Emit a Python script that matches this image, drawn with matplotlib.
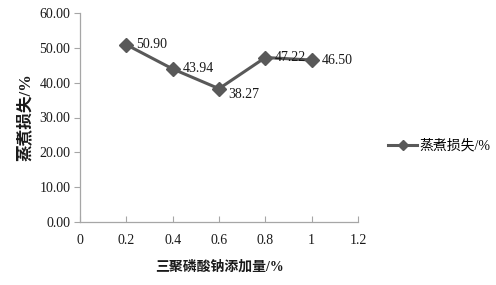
import matplotlib
matplotlib.use("Agg")
import matplotlib.pyplot as plt
from matplotlib.lines import Line2D

x_vals = [0.2, 0.4, 0.6, 0.8, 1.0]
loss = [50.90, 43.94, 38.27, 47.22, 46.50]
point_labels = ["50.90", "43.94", "38.27", "47.22", "46.50"]
x_ticks = [0, 0.2, 0.4, 0.6, 0.8, 1.0, 1.2]
x_tick_labels = ["0", "0.2", "0.4", "0.6", "0.8", "1", "1.2"]
y_ticks = [0, 10, 20, 30, 40, 50, 60]
y_tick_labels = ["0.00", "10.00", "20.00", "30.00", "40.00", "50.00", "60.00"]
series_name = "蒸煮损失/%"
x_label = "三聚磷酸钠添加量/%"
y_label = "蒸煮损失/%"

fam = ["Liberation Serif", "Noto Sans CJK SC"]
plt.rcParams['font.family'] = fam

fig = plt.figure(figsize=(4.96, 2.85), dpi=100)
ax = fig.add_axes([80/496, 1-222/285, (358-80)/496, (222-13)/285])

line_color = "#595959"
ax.plot(x_vals, loss, color=line_color, linewidth=2.2, marker="D",
        markersize=7.5, markerfacecolor=line_color, markeredgecolor=line_color,
        clip_on=False, zorder=3)

dys = [0, 0, -4, 0, 0]
for xv, yv, lab, dy in zip(x_vals, loss, point_labels, dys):
    ax.annotate(lab, (xv, yv), xytext=(7, dy), textcoords="offset points",
                ha="left", va="center", fontsize=10, color="#1a1a1a", zorder=4)

ax.set_xlim(0, 1.2)
ax.set_ylim(0, 60)
ax.set_xticks(x_ticks)
ax.set_xticklabels(x_tick_labels, fontsize=10)
ax.set_yticks(y_ticks)
ax.set_yticklabels(y_tick_labels, fontsize=10)

spine_color = "#a6a6a6"
for s in ["top", "right"]:
    ax.spines[s].set_visible(False)
for s in ["left", "bottom"]:
    ax.spines[s].set_color(spine_color)
    ax.spines[s].set_linewidth(0.9)
ax.tick_params(axis="x", direction="in", length=4, color=spine_color, pad=9, labelcolor="#1a1a1a")
ax.tick_params(axis="y", direction="out", length=4, color=spine_color, pad=3, labelcolor="#1a1a1a")

ax.set_xlabel(x_label, fontsize=10, fontweight="bold", labelpad=9, color="#1a1a1a")
ax.set_ylabel(y_label, fontsize=12, fontweight="bold", labelpad=4, color="#1a1a1a")

handle = Line2D([0], [0], color=line_color, linewidth=2.2, marker="D",
                markersize=5, markerfacecolor=line_color)
leg = fig.legend([handle], [series_name], loc="center left",
                 bbox_to_anchor=(388/496, 1-146/285), frameon=False,
                 fontsize=10, handlelength=2.1, handletextpad=0.15,
                 borderaxespad=0, borderpad=0)

fig.savefig("out.png", dpi=100)
